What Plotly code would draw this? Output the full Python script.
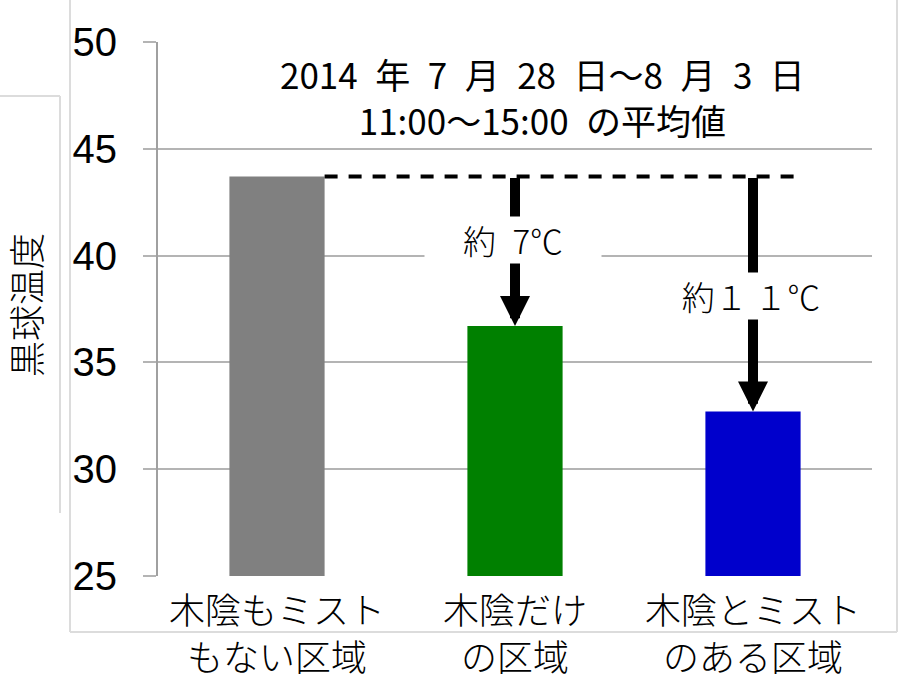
import plotly.graph_objects as go

# ---- data ----
categories = ["木陰もミスト<br>もない区域", "木陰だけ<br>の区域", "木陰とミスト<br>のある区域"]
values = [43.7, 36.7, 32.7]
bar_colors = ["#808080", "#008000", "#0000CC"]
diff_labels = ["", "約\u20027℃", "約１\u2009１℃"]
y_ticks = [25, 30, 35, 40, 45, 50]
title_text = "2014\u2002年\u20027\u2002月\u200228\u2002日～8\u2002月\u20023\u2002日<br>11:00～15:00\u2002の平均値"
y_title = "黒球温度"

JP = "Noto Sans CJK JP"
GRID = "#b4b4b4"
FRAME = "#dcdcdc"

x_idx = list(range(len(categories)))
bar_w = 0.4

fig = go.Figure()
fig.add_trace(go.Bar(
    x=x_idx, y=values, width=bar_w,
    marker=dict(color=bar_colors, line=dict(width=0)),
    showlegend=False, hoverinfo="skip",
))

# plot area in pixels (for frame decorations)
W, H = 900, 678
ml, mr, mt, mb = 158, 28, 42, 102
pw, ph = W - ml - mr, H - mt - mb


def px(xp):
    return (xp - ml) / pw


def py(yp):
    return (H - mb - yp) / ph


shapes = []
# outer light frame
shapes.append(dict(type="line", xref="paper", yref="paper", x0=px(70), x1=px(70), y0=py(632), y1=py(-2),
                   line=dict(color=FRAME, width=2), layer="below"))
shapes.append(dict(type="line", xref="paper", yref="paper", x0=px(70), x1=px(897), y0=py(632), y1=py(632),
                   line=dict(color=FRAME, width=2), layer="below"))
shapes.append(dict(type="line", xref="paper", yref="paper", x0=px(897), x1=px(897), y0=py(632), y1=py(-2),
                   line=dict(color=FRAME, width=2), layer="below"))
# small box around y-title (top + right edges)
shapes.append(dict(type="line", xref="paper", yref="paper", x0=px(-2), x1=px(60), y0=py(96), y1=py(96),
                   line=dict(color=FRAME, width=2), layer="below"))
shapes.append(dict(type="line", xref="paper", yref="paper", x0=px(60), x1=px(60), y0=py(96), y1=py(513),
                   line=dict(color=FRAME, width=2), layer="below"))

# dashed reference line at the first bar's level
ref = values[0]
shapes.append(dict(type="line", xref="x", yref="y", x0=x_idx[0] + bar_w / 2, x1=x_idx[-1] + bar_w / 2,
                   y0=ref, y1=ref, line=dict(color="black", width=4, dash="13px,11px")))

annotations = []
# arrows and difference labels
for i in x_idx[1:]:
    annotations.append(dict(
        x=i, y=values[i], ax=i, ay=ref, xref="x", yref="y", axref="x", ayref="y",
        text="", showarrow=True, arrowhead=2, arrowsize=0.6, arrowwidth=10, arrowcolor="black",
        standoff=0, startstandoff=0,
    ))
shifts = {1: 11, 2: -2}
for i in x_idx[1:]:
    annotations.append(dict(
        x=i, y=(ref + values[i]) / 2, xref="x", yref="y", yshift=shifts[i], xshift=-2,
        text=diff_labels[i], showarrow=False, bgcolor="white", width=176, height=46, borderpad=0,
        font=dict(family=JP, size=33, color="black", weight=300),
    ))

# title
annotations.append(dict(
    x=px(542), y=py(96), xref="paper", yref="paper", xanchor="center", yanchor="middle",
    text=title_text, showarrow=False, align="center",
    font=dict(family=JP, size=35, color="black"),
))
# y-axis title
annotations.append(dict(
    x=px(25), y=py(305), xref="paper", yref="paper", xanchor="center", yanchor="middle",
    text=y_title, textangle=-90, showarrow=False,
    font=dict(family=JP, size=36, color="black", weight=300),
))

fig.update_layout(
    width=W, height=H,
    margin=dict(l=ml, r=mr, t=mt, b=mb, pad=0, autoexpand=False),
    paper_bgcolor="white", plot_bgcolor="white",
    shapes=shapes, annotations=annotations,
    bargap=0.6,
    xaxis=dict(
        range=[-0.5, 2.5], tickmode="array", tickvals=x_idx, ticktext=categories,
        showgrid=False, zeroline=False, showline=False, ticks="", automargin=False,
        tickfont=dict(family=JP, size=36, color="black", weight=300),
        ticklabelstandoff=11,
    ),
    yaxis=dict(
        range=[25, 50], tickmode="array", tickvals=y_ticks, automargin=False,
        showgrid=True, gridcolor=GRID, gridwidth=2,
        zeroline=False, showline=True, linecolor="#a0a0a0", linewidth=2,
        ticks="outside", ticklen=13, tickwidth=2, tickcolor=GRID,
        tickfont=dict(family="Liberation Sans, Arial", size=40, color="black"),
        ticklabelstandoff=18,
    ),
)

fig.write_html(
    "out.html",
    config={"displayModeBar": False},
    post_script="document.body.style.margin='0';document.body.style.padding='0';document.body.style.overflow='hidden';",
)
